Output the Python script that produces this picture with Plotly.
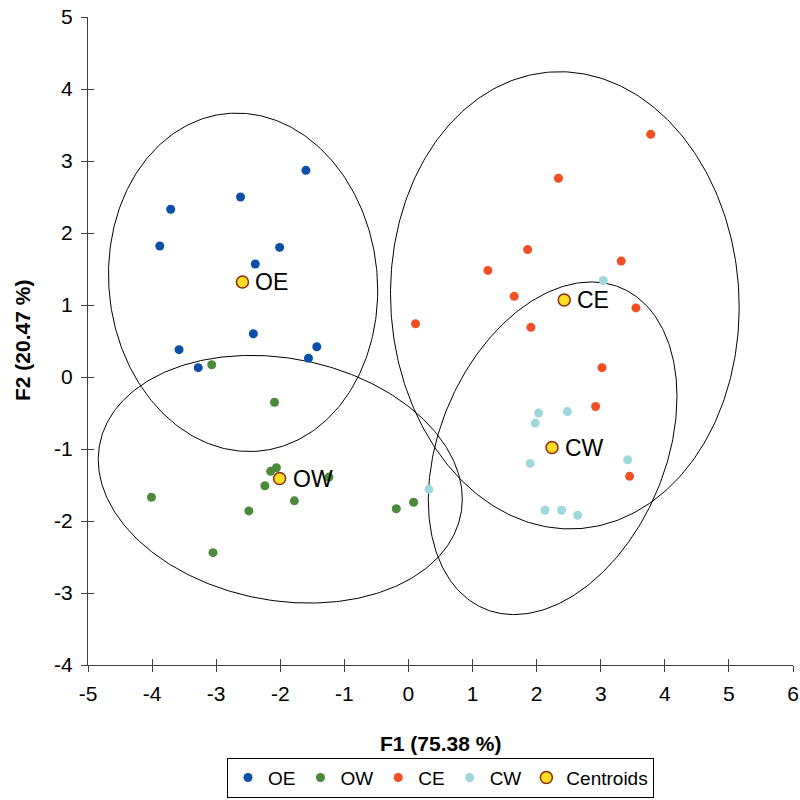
import numpy as np
import plotly.graph_objects as go

# ---- data ----
oe_x = [-1.60, -2.62, -3.71, -3.88, -2.01, -2.39, -2.42, -3.58, -1.43, -1.56, -3.28]
oe_y = [2.87, 2.50, 2.33, 1.82, 1.80, 1.57, 0.60, 0.38, 0.42, 0.26, 0.13]

ow_x = [-3.07, -2.09, -2.06, -2.15, -1.24, -2.24, -1.78, -4.01, -2.49, -0.19, 0.08, -3.05]
ow_y = [0.17, -0.35, -1.26, -1.31, -1.39, -1.51, -1.72, -1.67, -1.86, -1.83, -1.74, -2.44]

ce_x = [3.78, 2.34, 1.86, 1.24, 3.32, 1.65, 3.55, 0.11, 1.91, 3.02, 2.92, 3.45]
ce_y = [3.37, 2.76, 1.77, 1.48, 1.61, 1.12, 0.96, 0.74, 0.69, 0.13, -0.41, -1.38]

cw_x = [3.04, 2.03, 2.48, 1.98, 3.42, 1.90, 0.32, 2.13, 2.39, 2.64]
cw_y = [1.34, -0.50, -0.48, -0.64, -1.15, -1.20, -1.56, -1.85, -1.85, -1.92]

centroid_names = ["OE", "OW", "CE", "CW"]
centroid_x = [-2.59, -2.01, 2.43, 2.24]
centroid_y = [1.32, -1.41, 1.07, -0.98]

# confidence ellipses: centre, half-extent in x / y, correlation
ell_cx = [-2.58, -2.00, 2.44, 2.25]
ell_cy = [1.315, -1.42, 1.065, -0.99]
ell_sx = [2.10, 2.84, 2.72, 1.94]
ell_sy = [2.35, 1.72, 3.175, 2.31]
ell_rho = [-0.047, -0.16, -0.03, 0.31]

x_ticks = list(range(-5, 7))
y_ticks = list(range(-4, 6))
x_ticktext = [str(v) for v in x_ticks]
y_ticktext = [str(v) for v in y_ticks]

x_title = "F1 (75.38 %)"
y_title = "F2 (20.47 %)"

FONT = "Arial, Liberation Sans, sans-serif"

fig = go.Figure()

# ellipses
t = np.linspace(0, 2 * np.pi, 361)
for cx, cy, sx, sy, r in zip(ell_cx, ell_cy, ell_sx, ell_sy, ell_rho):
    ex = cx + sx * np.cos(t)
    ey = cy + sy * (r * np.cos(t) + np.sqrt(1 - r * r) * np.sin(t))
    fig.add_trace(go.Scatter(x=ex, y=ey, mode="lines",
                             line=dict(color="black", width=1),
                             showlegend=False, hoverinfo="skip"))

groups = [("OE", oe_x, oe_y, "#0a50a8"),
          ("OW", ow_x, ow_y, "#4a8a3a"),
          ("CE", ce_x, ce_y, "#f24e23"),
          ("CW", cw_x, cw_y, "#9ed8da")]
for name, xs, ys, col in groups:
    fig.add_trace(go.Scatter(x=xs, y=ys, mode="markers", name=name,
                             marker=dict(color=col, size=9, line=dict(width=0))))

fig.add_trace(go.Scatter(x=centroid_x, y=centroid_y, mode="markers", name="Centroids",
                         marker=dict(color="#ffdd22", size=12,
                                     line=dict(color="#8b2a10", width=1.5))))

for nm, cx, cy in zip(centroid_names, centroid_x, centroid_y):
    fig.add_annotation(x=cx, y=cy, text=nm, showarrow=False, xanchor="left",
                       xshift=11, font=dict(family=FONT, size=23, color="black"))

# axis titles
fig.add_annotation(xref="paper", yref="paper", x=0.5, y=-0.1204, yanchor="middle",
                   text="<b>" + x_title + "</b>", showarrow=False,
                   font=dict(family=FONT, size=21, color="black"))
fig.add_annotation(xref="paper", yref="paper", x=-0.0936, y=0.5, xanchor="center",
                   textangle=-90, text="<b>" + y_title + "</b>", showarrow=False,
                   font=dict(family=FONT, size=21, color="black"))

axis_common = dict(showgrid=False, zeroline=False, showline=True, automargin=False,
                   linecolor="#404040", linewidth=1, ticks="outside", ticklen=6,
                   tickcolor="#404040", tickwidth=1,
                   tickfont=dict(family=FONT, size=21, color="black"))

fig.update_layout(
    width=800, height=800,
    margin=dict(l=88, r=7, t=17, b=135, autoexpand=False),
    plot_bgcolor="white", paper_bgcolor="white",
    xaxis=dict(range=[-5, 6], tickvals=x_ticks, ticktext=x_ticktext,
               ticklabelstandoff=4, **axis_common),
    yaxis=dict(range=[-4, 5], tickvals=y_ticks, ticktext=y_ticktext,
               ticklabelstandoff=4, **axis_common),
    xaxis2=dict(range=[-5, 6], tickvals=x_ticks, overlaying="x", side="bottom",
                anchor="y", showgrid=False, zeroline=False, showline=False, automargin=False,
                ticks="inside", ticklen=6, tickcolor="#404040", showticklabels=False),
    yaxis2=dict(range=[-4, 5], tickvals=y_ticks, overlaying="y", side="left",
                anchor="x", showgrid=False, zeroline=False, showline=False, automargin=False,
                ticks="inside", ticklen=6, tickcolor="#404040", showticklabels=False),
    legend=dict(orientation="h", x=0.5, xanchor="center",
                yref="container", y=0.053, yanchor="top",
                bordercolor="black", borderwidth=1, bgcolor="white",
                font=dict(family=FONT, size=19, color="black"),
                itemwidth=30, tracegroupgap=0),
    showlegend=True,
)

# invisible trace to activate the secondary axes (cross ticks)
fig.add_trace(go.Scatter(x=[None], y=[None], xaxis="x2", yaxis="y2",
                         showlegend=False, hoverinfo="skip"))

fig.write_html("out.html", config={"displayModeBar": False},
               post_script="document.body.style.margin='0';document.body.style.padding='0';")
